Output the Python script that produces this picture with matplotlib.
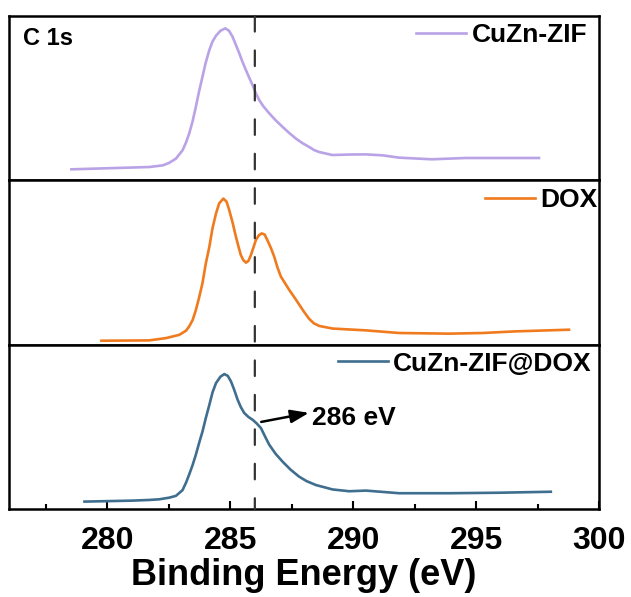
import matplotlib
matplotlib.use("Agg")
import matplotlib.pyplot as plt
from matplotlib.patches import ConnectionPatch
from matplotlib.ticker import MultipleLocator

plt.rcParams['font.family'] = ['Liberation Sans', 'DejaVu Sans']
plt.rcParams['font.weight'] = 'bold'

# ---------------- data (binding energy in eV, normalized intensity a.u.) ----------------
zif_energy = [278.54, 281.7, 282.25, 282.5, 282.79, 283.06, 283.2, 283.33, 283.47, 283.6,
              283.73, 283.87, 284.0, 284.15, 284.28, 284.42, 284.6, 284.8, 284.95, 285.09,
              285.2, 285.37, 285.5, 285.64, 285.77, 285.91, 286.04, 286.18, 286.35, 286.59,
              286.85, 287.13, 287.4, 287.67, 287.94, 288.21, 288.4, 288.6, 289.15, 289.84,
              290.5, 291.2, 291.87, 293.2, 294.58, 295.9, 297.56]
zif_intensity = [0.067, 0.081, 0.091, 0.105, 0.132, 0.183, 0.230, 0.285, 0.360, 0.447,
                 0.540, 0.630, 0.715, 0.793, 0.845, 0.880, 0.910, 0.925, 0.910, 0.875,
                 0.835, 0.772, 0.720, 0.670, 0.625, 0.579, 0.530, 0.488, 0.450, 0.407,
                 0.365, 0.325, 0.288, 0.254, 0.226, 0.203, 0.185, 0.173, 0.154, 0.157,
                 0.158, 0.152, 0.138, 0.128, 0.136, 0.136, 0.136]

dox_energy = [279.76, 281.7, 282.39, 282.93, 283.2, 283.33, 283.47, 283.6, 283.73, 283.87,
              284.0, 284.15, 284.28, 284.42, 284.55, 284.72, 284.85, 284.96, 285.1, 285.23,
              285.33, 285.43, 285.53, 285.64, 285.74, 285.84, 285.94, 286.04, 286.16, 286.28,
              286.4, 286.51, 286.65, 286.79, 286.92, 287.06, 287.4, 287.6, 287.8, 288.0,
              288.21, 288.4, 288.62, 289.16, 290.52, 291.87, 293.9, 295.26, 296.61, 298.78]
dox_intensity = [0.024, 0.026, 0.040, 0.060, 0.085, 0.111, 0.150, 0.210, 0.285, 0.374,
                 0.490, 0.596, 0.710, 0.798, 0.860, 0.889, 0.870, 0.818, 0.740, 0.657,
                 0.600, 0.545, 0.515, 0.499, 0.510, 0.545, 0.590, 0.636, 0.665, 0.677,
                 0.670, 0.636, 0.590, 0.535, 0.470, 0.414, 0.333, 0.290, 0.245, 0.200,
                 0.157, 0.130, 0.114, 0.098, 0.087, 0.071, 0.067, 0.071, 0.081, 0.091]

zifdox_energy = [279.07, 281.03, 281.7, 282.11, 282.52, 282.79, 283.06, 283.2, 283.33, 283.47,
                 283.6, 283.73, 283.87, 284.0, 284.15, 284.28, 284.42, 284.6, 284.76, 284.9,
                 285.03, 285.15, 285.3, 285.43, 285.57, 285.74, 285.91, 286.08, 286.25, 286.42,
                 286.59, 286.85, 287.13, 287.45, 287.8, 288.1, 288.48, 289.16, 289.84, 290.52,
                 291.87, 293.9, 295.93, 298.04]
zifdox_intensity = [0.045, 0.051, 0.055, 0.059, 0.069, 0.080, 0.115, 0.160, 0.210, 0.268,
                    0.330, 0.400, 0.471, 0.550, 0.634, 0.710, 0.766, 0.805, 0.821, 0.810,
                    0.776, 0.730, 0.665, 0.620, 0.584, 0.560, 0.543, 0.520, 0.492, 0.440,
                    0.390, 0.335, 0.288, 0.240, 0.197, 0.170, 0.146, 0.119, 0.108, 0.112,
                    0.096, 0.096, 0.099, 0.105]

series_labels = ['CuZn-ZIF', 'DOX', 'CuZn-ZIF@DOX']
series_colors = ['#B9A2E6', '#F07A1E', '#3F6E8E']
marker_energy = 286.0
annot_text = '286 eV'
x_ticks = [280, 285, 290, 295, 300]
x_label = 'Binding Energy (eV)'
panel_title = 'C 1s'

# ---------------- figure ----------------
W, H = 631, 597
fig = plt.figure(figsize=(W / 100, H / 100), dpi=100)
left, right = 9 / W, 599 / W
bottom, top = 1 - 509 / H, 1 - 16 / H
ph = (top - bottom) / 3
axes = []
for i in range(3):
    ax = fig.add_axes([left, top - (i + 1) * ph, right - left, ph])
    axes.append(ax)

data = [(zif_energy, zif_intensity), (dox_energy, dox_intensity), (zifdox_energy, zifdox_intensity)]
legend_anchor = [(0.980, 0.957), (0.997, 0.952), (0.988, 0.957)]

for i, ax in enumerate(axes):
    xe, yi = data[i]
    ax.plot(xe, yi, color=series_colors[i], lw=1.9, label=series_labels[i],
            solid_joinstyle='round')
    ax.set_xlim(276, 300)
    ax.set_ylim(0, 1)
    ax.set_yticks([])
    for s in ax.spines.values():
        s.set_linewidth(1.8)
    ax.legend(loc='upper right', bbox_to_anchor=legend_anchor[i], frameon=False,
              borderpad=0, borderaxespad=0, handlelength=1.9, handletextpad=0.2,
              prop=dict(weight='bold', size=19))
    if i < 2:
        ax.tick_params(axis='x', which='both', bottom=False, labelbottom=False)

ax3 = axes[2]
ax3.set_xticks(x_ticks)
ax3.xaxis.set_minor_locator(MultipleLocator(2.5))
ax3.tick_params(axis='x', which='major', direction='in', length=6, width=1.5,
                labelsize=23, pad=12)
ax3.tick_params(axis='x', which='minor', direction='in', length=3.5, width=1.5)
for lbl in ax3.get_xticklabels():
    lbl.set_fontweight('bold')
ax3.set_xlabel(x_label, fontsize=26, fontweight='bold', labelpad=2)

axes[0].text(0.024, 0.823, panel_title, transform=axes[0].transAxes, fontsize=17,
             fontweight='bold', ha='left', va='baseline')

# dashed reference line across all panels
con = ConnectionPatch(xyA=(marker_energy, 1), coordsA=axes[0].transData,
                      xyB=(marker_energy, 0), coordsB=ax3.transData,
                      color='#333333', lw=1.6, linestyle=(0, (7, 8.5)))
fig.add_artist(con)

# annotation arrow in bottom panel
ax3.annotate('', xy=(288.2, 0.585), xytext=(286.26, 0.53),
             arrowprops=dict(arrowstyle='-|>,head_length=1.1,head_width=0.4',
                             color='black', lw=1.8, shrinkA=0, shrinkB=0))
ax3.text(288.33, 0.512, annot_text, fontsize=19, fontweight='bold', ha='left', va='baseline')

fig.savefig('out.png', dpi=100)
